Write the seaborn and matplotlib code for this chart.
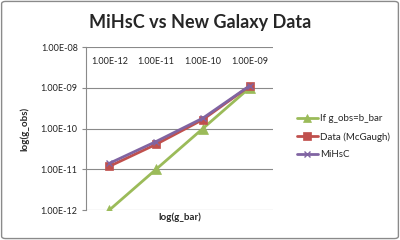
import matplotlib
matplotlib.use("Agg")
import matplotlib.pyplot as plt
import matplotlib.ticker as mticker
from matplotlib.patches import FancyBboxPatch
import pandas as pd
import seaborn as sns

categories = ["1.00E-12", "1.00E-11", "1.00E-10", "1.00E-09"]
series_names = ["If g_obs=b_bar", "Data (McGaugh)", "MiHsC"]
equal_line = [1.0e-12, 1.0e-11, 1.0e-10, 1.0e-9]
mcgaugh = [1.18e-11, 4.1e-11, 1.66e-10, 1.1e-9]
mihsc = [1.4e-11, 4.8e-11, 1.8e-10, 1.12e-9]
y_ticks = [1e-12, 1e-11, 1e-10, 1e-9, 1e-8]

rows = []
for name, vals in zip(series_names, [equal_line, mcgaugh, mihsc]):
    for i, v in enumerate(vals):
        rows.append({"idx": i, "g_obs": v, "series": name})
df = pd.DataFrame(rows)

sns.set_theme(style="white")
plt.rcParams["font.family"] = ["Lato", "DejaVu Sans"]

fig = plt.figure(figsize=(4, 2.4), dpi=100)
ax = fig.add_axes([0.215, 0.125, 0.4675, 0.679])

palette = {"If g_obs=b_bar": "#9BBB59", "Data (McGaugh)": "#C0504D", "MiHsC": "#8064A2"}
markers = {"If g_obs=b_bar": "^", "Data (McGaugh)": "s", "MiHsC": "x"}
sizes = {"If g_obs=b_bar": 6.5, "Data (McGaugh)": 6, "MiHsC": 5}

for name in series_names:
    sub = df[df["series"] == name]
    sns.lineplot(data=sub, x="idx", y="g_obs", ax=ax, color=palette[name],
                 marker=markers[name], markersize=sizes[name], linewidth=2, label=name,
                 markeredgecolor=palette[name],
                 markeredgewidth=1 if name == "MiHsC" else 0.5,
                 legend=False, zorder=3)

ax.set_yscale("log")
ax.set_ylim(1e-12, 1e-8)
ax.set_xlim(-0.5, 3.5)
ax.yaxis.set_major_locator(mticker.FixedLocator(y_ticks))
ax.yaxis.set_minor_locator(mticker.NullLocator())
ax.yaxis.set_major_formatter(mticker.FuncFormatter(lambda v, p: "{:.2E}".format(v)))
ax.grid(axis="y", color="#8a8a8a", linewidth=0.8)
ax.set_axisbelow(True)
ax.tick_params(axis="y", which="major", left=True, length=3, width=0.8, color="#8a8a8a",
               labelsize=6.5, pad=3, labelcolor="#222222")

ax.set_xticks(range(len(categories)))
ax.set_xticklabels(categories)
ax.tick_params(axis="x", bottom=False, labelbottom=False, top=False, labeltop=True,
               length=0, pad=-14, labelsize=6.5, labelcolor="#222222")

for s in ["top", "right", "bottom"]:
    ax.spines[s].set_visible(False)
ax.spines["left"].set_color("#8a8a8a")
ax.spines["left"].set_linewidth(0.8)

ax.set_xlabel("log(g_bar)", fontsize=7, fontweight="bold", labelpad=2)
ax.set_ylabel("log(g_obs)", fontsize=7, fontweight="bold", labelpad=8)

fig.suptitle("MiHsC vs New Galaxy Data", x=0.5, y=0.94, fontsize=13, fontweight="bold")

handles, labels = ax.get_legend_handles_labels()
fig.legend(handles, labels, loc="center left", bbox_to_anchor=(0.72, 0.43),
           frameon=False, fontsize=7, handlelength=2.2, handletextpad=0.2,
           labelspacing=0.9, markerscale=0.9)

border = FancyBboxPatch((0.004, 0.006), 0.992, 0.988, boxstyle="round,pad=0,rounding_size=0.01",
                        transform=fig.transFigure, fill=False, edgecolor="#8a8a8a", linewidth=1)
fig.patches.append(border)

fig.savefig("out.png", dpi=100)
